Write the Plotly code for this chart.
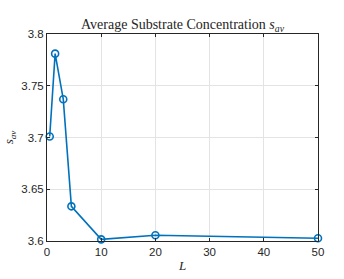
import plotly.graph_objects as go

L_values = [0.5, 1.5, 3, 4.5, 10, 20, 50]
s_av = [3.701, 3.781, 3.737, 3.6335, 3.6016, 3.6055, 3.6026]
x_ticks = [0, 10, 20, 30, 40, 50]
y_ticks = [3.6, 3.65, 3.7, 3.75, 3.8]
y_tick_labels = ["3.6", "3.65", "3.7", "3.75", "3.8"]

blue = "#0072BD"
dark = "#262626"

fig = go.Figure()
fig.add_trace(go.Scatter(
    x=L_values, y=s_av, mode="lines+markers",
    line=dict(color=blue, width=1.6),
    marker=dict(symbol="circle-open", size=7, color=blue, line=dict(width=1.6, color=blue)),
    showlegend=False, cliponaxis=False,
))

axis_common = dict(
    showline=True, linecolor=dark, linewidth=1, mirror="ticks",
    ticks="inside", ticklen=3, tickcolor=dark,
    showgrid=True, gridcolor="#e3e3e3", gridwidth=1, zeroline=False,
    tickfont=dict(family="Liberation Sans, Arial", size=11.5, color=dark),
    automargin=False,
)

fig.update_layout(
    width=344, height=279,
    margin=dict(l=47, r=26, t=34, b=38),
    paper_bgcolor="white", plot_bgcolor="white",
    title=dict(
        text="Average Substrate Concentration <i>s</i><sub><i>av</i></sub>",
        x=0.5, xanchor="center", xref="paper", y=1, yref="paper", yanchor="bottom",
        pad=dict(b=5),
        font=dict(family="Liberation Serif, Times New Roman, serif", size=14, color=dark),
    ),
    xaxis=dict(range=[0, 50], tickvals=x_ticks,
               title=dict(text="<i>L</i>", standoff=4,
                          font=dict(family="Liberation Serif, serif", size=13, color=dark)),
               **axis_common),
    yaxis=dict(range=[3.6, 3.8], tickvals=y_ticks, ticktext=y_tick_labels,
               title=dict(text="<i>s</i><sub><i>av</i></sub>", standoff=4,
                          font=dict(family="Liberation Serif, serif", size=13, color=dark)),
               **axis_common),
)

fig.write_html("out.html", config={"displayModeBar": False},
               post_script="document.body.style.margin='0';document.body.style.overflow='hidden';")
